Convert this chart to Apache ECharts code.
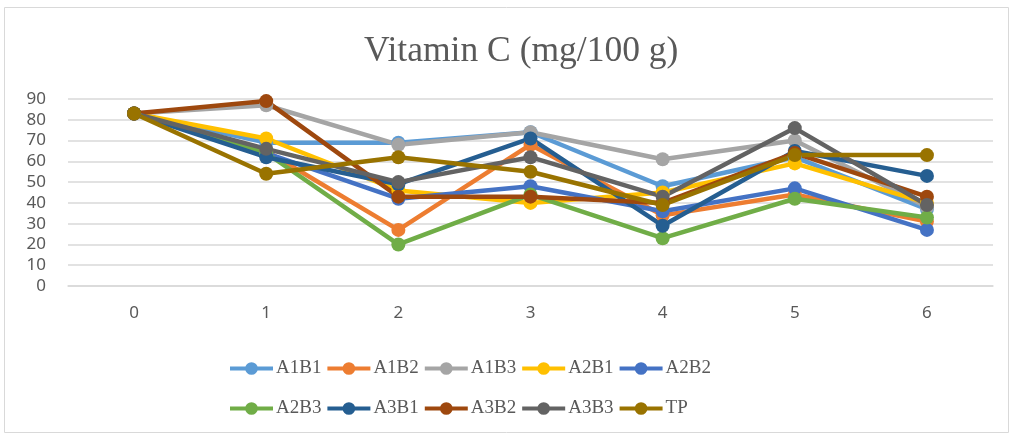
<!DOCTYPE html>
<html>
<head>
<meta charset="utf-8">
<script src="https://cdn.jsdelivr.net/npm/echarts@6/dist/echarts.min.js"></script>
<style>
html,body{margin:0;padding:0;background:#fff;}
#chart{width:1011px;height:436px;}
</style>
</head>
<body>
<div id="chart"></div>
<script>
const categories = ['0', '1', '2', '3', '4', '5', '6'];
const yTicks = [0, 10, 20, 30, 40, 50, 60, 70, 80, 90];
const seriesNames = ['A1B1', 'A1B2', 'A1B3', 'A2B1', 'A2B2', 'A2B3', 'A3B1', 'A3B2', 'A3B3', 'TP'];
const A1B1 = [83, 69, 69, 74, 48, 62, 37];
const A1B2 = [83, 65, 27, 68, 34, 44, 31];
const A1B3 = [83, 87, 68, 74, 61, 70, 38];
const A2B1 = [83, 71, 46, 40, 45, 59, 40];
const A2B2 = [83, 64, 42, 48, 36, 47, 27];
const A2B3 = [83, 64, 20, 44, 23, 42, 33];
const A3B1 = [83, 62, 49, 71, 29, 65, 53];
const A3B2 = [83, 89, 43, 43, 40, 64, 43];
const A3B3 = [83, 66, 50, 62, 43, 76, 39];
const TP   = [83, 54, 62, 55, 39, 63, 63];
const seriesValues = [A1B1, A1B2, A1B3, A2B1, A2B2, A2B3, A3B1, A3B2, A3B3, TP];
const colors = ['#5B9BD5', '#ED7D31', '#A5A5A5', '#FFC000', '#4472C4', '#70AD47', '#255E91', '#9E480E', '#636363', '#997300'];

const legendIcon = 'path://M0,4.5H44V8.5H0Z M15.5,6.5A6.5,6.5,0,1,1,28.5,6.5A6.5,6.5,0,1,1,15.5,6.5Z';

const chart = echarts.init(document.getElementById('chart'), null, {renderer: 'canvas'});
const legendCommon = {
  left: 225,
  itemWidth: 43,
  itemHeight: 13,
  itemGap: 6,
  icon: legendIcon,
  itemStyle: {borderWidth: 0},
  textStyle: {fontFamily: '"Liberation Serif", "Times New Roman", serif', fontSize: 19, color: '#595959', padding: [0, 0, 0, -2]}
};
chart.setOption({
  animation: false,
  color: colors,
  title: {
    text: 'Vitamin C (mg/100 g)',
    left: 359,
    top: 29,
    textStyle: {fontFamily: '"Liberation Serif", "Times New Roman", serif', fontSize: 35.5, fontWeight: 'normal', color: '#595959'}
  },
  graphic: [{
    type: 'rect',
    shape: {x: 4.5, y: 7.5, width: 1004, height: 425},
    style: {fill: 'none', stroke: '#d9d9d9', lineWidth: 1},
    silent: true, z: -1
  }],
  legend: [
    Object.assign({}, legendCommon, {top: 354, data: seriesNames.slice(0, 5)}),
    Object.assign({}, legendCommon, {top: 394, data: seriesNames.slice(5)})
  ],
  grid: {left: 68, right: 18, top: 99, bottom: 150, containLabel: false},
  xAxis: {
    type: 'category',
    data: categories,
    boundaryGap: true,
    axisLine: {show: true, lineStyle: {color: '#d9d9d9', width: 1.5}},
    axisTick: {show: false},
    axisLabel: {margin: 19, fontFamily: '"Noto Sans", "Open Sans", sans-serif', fontSize: 17, color: '#595959'}
  },
  yAxis: {
    type: 'value',
    min: yTicks[0],
    max: yTicks[yTicks.length - 1],
    interval: 10,
    axisLine: {show: false},
    axisTick: {show: false},
    splitLine: {lineStyle: {color: '#d9d9d9', width: 1.5}},
    axisLabel: {margin: 22, fontFamily: '"Noto Sans", "Open Sans", sans-serif', fontSize: 17, color: '#595959'}
  },
  series: seriesNames.map((name, i) => ({
    name: name,
    type: 'line',
    data: seriesValues[i],
    symbol: 'circle',
    symbolSize: 14,
    lineStyle: {width: 4.5, color: colors[i]},
    itemStyle: {color: colors[i]},
    emphasis: {disabled: true}
  }))
});
</script>
</body>
</html>
